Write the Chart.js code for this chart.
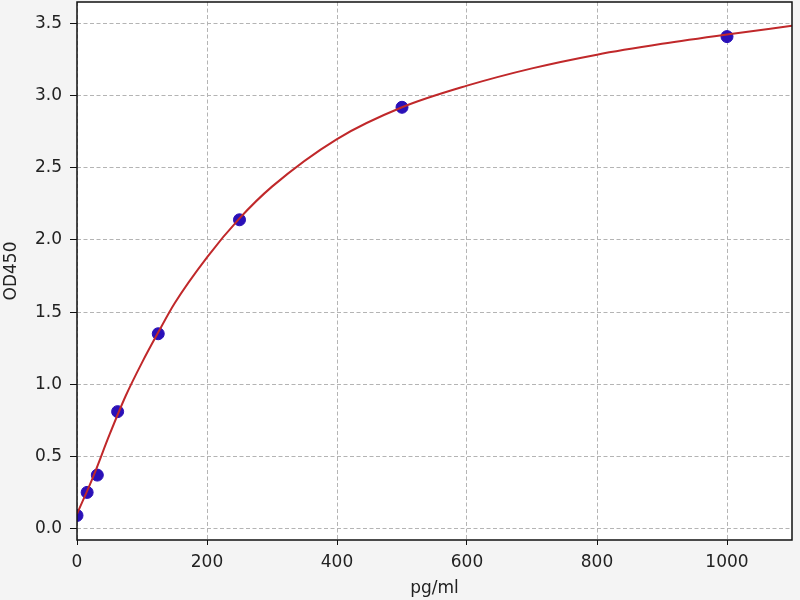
<!DOCTYPE html>
<html>
<head>
<meta charset="UTF-8">
<title>OD450 standard curve</title>
<style>
html, body { margin: 0; padding: 0; background: #f4f4f4; }
.chart-container { width: 800px; height: 600px; }
</style>
<script src="https://cdn.jsdelivr.net/npm/chart.js"></script>
</head>
<body>
	<div class="chart-container">
		<canvas id="curve-chart"></canvas>
	</div>

	<script>
		// standard points (pg/ml, OD450)
		const concX = [0, 15.6, 31.25, 62.5, 125, 250, 500, 1000];
		const odY = [0.09, 0.25, 0.37, 0.81, 1.35, 2.14, 2.92, 3.41];

		// fitted curve
		const fitX = [0, 25, 50, 75, 100, 125, 150, 200, 250, 300, 400, 500, 600, 700, 800, 900, 1000, 1100];
		const fitY = [0.10, 0.36, 0.65, 0.92, 1.15, 1.36, 1.56, 1.88, 2.15, 2.37, 2.70, 2.92, 3.07, 3.19, 3.285, 3.36, 3.425, 3.485];

		const xTicks = [0, 200, 400, 600, 800, 1000];
		const yTicks = [0.0, 0.5, 1.0, 1.5, 2.0, 2.5, 3.0, 3.5];

		const toPts = (xs, ys) => xs.map((x, i) => ({ x: x, y: ys[i] }));

		// white plot area + black frame
		const frame = {
			id: 'frame',
			beforeDraw(chart) {
				const a = chart.chartArea, c = chart.ctx;
				c.save();
				c.fillStyle = '#ffffff';
				c.fillRect(a.left, a.top, a.right - a.left, a.bottom - a.top);
				c.restore();
			},
			afterDraw(chart) {
				const a = chart.chartArea, c = chart.ctx;
				c.save();
				c.strokeStyle = '#111';
				c.lineWidth = 1.5;
				c.strokeRect(a.left, a.top, a.right - a.left, a.bottom - a.top);
				c.restore();
			}
		};

		const font = { family: 'DejaVu Sans', size: 17 };
		const noPad = s => { s.paddingTop = 0; s.paddingBottom = 0; s.paddingLeft = 0; s.paddingRight = 0; };

		new Chart(document.querySelector('#curve-chart'), {
			type: 'scatter',
			data: {
				datasets: [{
					label: 'fit',
					data: toPts(fitX, fitY),
					showLine: true,
					borderColor: '#c0282a',
					borderWidth: 2,
					pointRadius: 0,
					cubicInterpolationMode: 'monotone',
					order: 0
				}, {
					label: 'std',
					data: toPts(concX, odY),
					backgroundColor: '#2a10b8',
					borderColor: '#2a10b8',
					pointRadius: 6,
					order: 1
				}]
			},
			options: {
				responsive: true,
				maintainAspectRatio: false,
				animation: false,
				layout: { autoPadding: false, padding: { left: 0, right: 8, top: 2, bottom: 0 } },
				plugins: { legend: { display: false }, tooltip: { enabled: false } },
				scales: {
					x: {
						type: 'linear',
						min: 0,
						max: 1100,
						afterBuildTicks: s => { s.ticks = xTicks.map(v => ({ value: v })); },
						afterFit: s => { s.height = 60; noPad(s); },
						ticks: { color: '#222', font: font, padding: 7, maxRotation: 0, callback: v => String(v) },
						grid: { color: '#b4b4b4', tickColor: '#111', tickLength: 5 },
						border: { display: false, dash: [4, 2.5] },
						title: { display: true, text: 'pg/ml', color: '#222', font: font, padding: { top: 0, bottom: 1 } }
					},
					y: {
						min: -0.08,
						max: 3.65,
						afterBuildTicks: s => { s.ticks = yTicks.map(v => ({ value: v })); },
						afterFit: s => { s.width = 77; noPad(s); },
						ticks: { color: '#222', font: font, padding: 8, callback: v => v.toFixed(1) },
						grid: { color: '#b4b4b4', tickColor: '#111', tickLength: 7 },
						border: { display: false, dash: [4, 2.5] },
						title: { display: true, text: 'OD450', color: '#222', font: font, padding: { top: 1, bottom: 1 } }
					}
				}
			},
			plugins: [frame]
		});
	</script>
</body>
</html>
